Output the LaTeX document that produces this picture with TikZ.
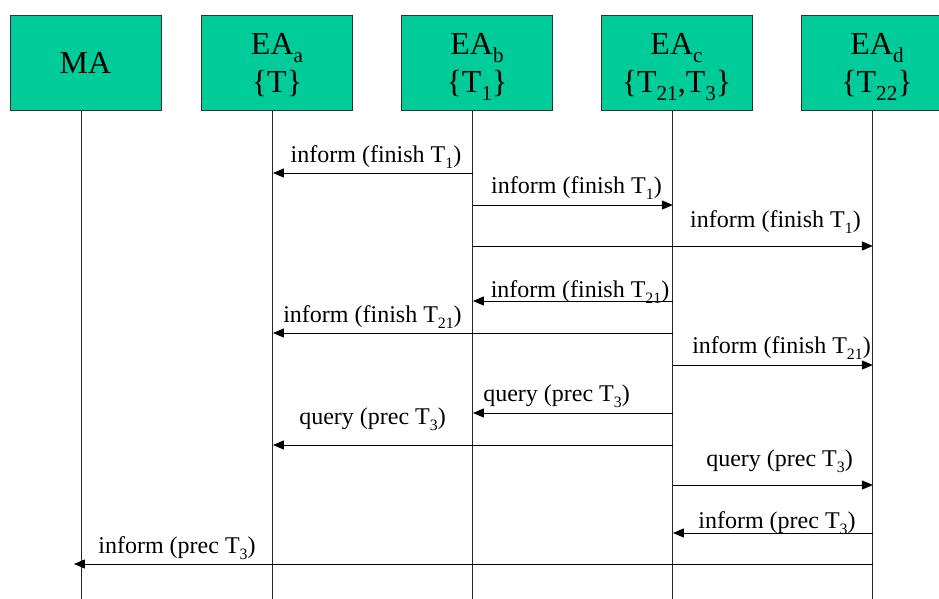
\documentclass[tikz,border=0pt]{standalone}
\usepackage{fontspec}
\setmainfont{Liberation Serif}
\usetikzlibrary{arrows.meta}
\definecolor{boxgreen}{RGB}{0,204,153}
\newcommand\sbs[1]{\raisebox{-0.25em}{\scalebox{0.66}{#1}}}
\begin{document}
\begin{tikzpicture}[x=1pt,y=-1pt,
  box/.style={draw=black!80,line width=0.8pt,fill=boxgreen,minimum width=151pt,minimum height=95pt,inner sep=0pt,anchor=north west},
  btext/.style={font=\fontsize{32}{38}\selectfont,anchor=base,inner sep=0pt},
  lbl/.style={font=\fontsize{24}{28}\selectfont,anchor=base,inner sep=0pt},
  life/.style={line width=1pt,black!85},
  msg/.style={line width=1pt,-{Triangle[length=11pt,width=9pt]}}]
\useasboundingbox (0,0) rectangle (939,599);
\clip (0,0) rectangle (939,599);
% boxes
\node[box] (MA) at (10,15) {};
\node[box] (EAa) at (201,15) {};
\node[box] (EAb) at (401,15) {};
\node[box] (EAc) at (601,15) {};
\node[box] (EAd) at (801,15) {};
% box texts
\node[btext] (MAt) at (85.5,74) {MA};
\node[btext] (EAa1) at (277,55) {EA\sbs{a}};
\node[btext] (EAa2) at (277,93) {\{T\}};
\node[btext] (EAb1) at (477,55) {EA\sbs{b}};
\node[btext] (EAb2) at (477,93) {\{T\sbs{1}\}};
\node[btext] (EAc1) at (676.5,55) {EA\sbs{c}};
\node[btext] (EAc2) at (676.5,93) {\{T\sbs{21},T\sbs{3}\}};
\node[btext] (EAd1) at (877,55) {EA\sbs{d}};
\node[btext] (EAd2) at (877,93) {\{T\sbs{22}\}};
% lifelines
\foreach \n in {MA,EAa,EAb,EAc,EAd}{
  \coordinate (\n l) at ([xshift=-4pt]\n.south);
  \coordinate (\n e) at (\n l |- 0,599);
  \draw[life] (\n l) -- (\n e);
}
\coordinate (MAtip) at ([xshift=-8pt]MAl |- 0,564);
% messages
\draw[msg] (EAbl |- 0,173) -- (EAal |- 0,173);
\node[lbl] (m1) at (376,162) {inform (finish T\sbs{1})};
\draw[msg] (EAbl |- 0,205) -- (EAcl |- 0,205);
\node[lbl] (m2) at (576.5,193) {inform (finish T\sbs{1})};
\draw[msg] (EAbl |- 0,246) -- (EAdl |- 0,246);
\node[lbl] (m3) at (775.5,227) {inform (finish T\sbs{1})};
\draw[msg] (EAcl |- 0,301) -- (EAbl |- 0,301);
\node[lbl] (m4) at (580,297) {inform (finish T\sbs{21})};
\draw[msg] (EAcl |- 0,333) -- (EAal |- 0,333);
\node[lbl] (m5) at (372.5,322) {inform (finish T\sbs{21})};
\draw[msg] (EAcl |- 0,365) -- (EAdl |- 0,365);
\node[lbl] (m6) at (781.5,353) {inform (finish T\sbs{21})};
\draw[msg] (EAcl |- 0,413) -- (EAbl |- 0,413);
\node[lbl] (m7) at (556.5,401) {query (prec T\sbs{3})};
\draw[msg] (EAcl |- 0,445) -- (EAal |- 0,445);
\node[lbl] (m8) at (372.5,424) {query (prec T\sbs{3})};
\draw[msg] (EAcl |- 0,485) -- (EAdl |- 0,485);
\node[lbl] (m9) at (779.5,466) {query (prec T\sbs{3})};
\draw[msg] (EAdl |- 0,533) -- (EAcl |- 0,533);
\node[lbl] (m10) at (777,528) {inform (prec T\sbs{3})};
\draw[msg] (EAdl |- 0,564) -- (MAtip);
\node[lbl] (m11) at (177,553) {inform (prec T\sbs{3})};
\end{tikzpicture}
\end{document}
